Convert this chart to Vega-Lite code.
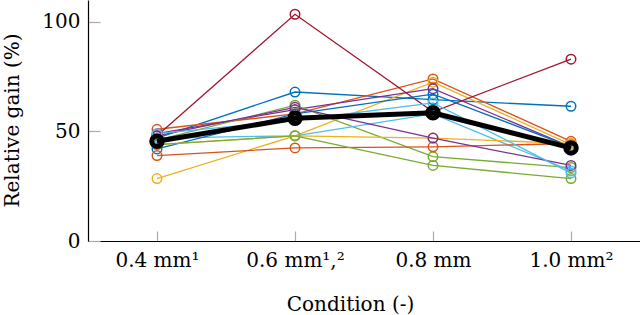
{
  "$schema": "https://vega.github.io/schema/vega-lite/v6.json",
  "width": 552,
  "height": 241,
  "autosize": {"type": "none"},
  "padding": {"left": 88, "top": 0, "right": 0, "bottom": 74},
  "background": "white",
  "config": {
    "view": {"stroke": null},
    "font": "DejaVu Serif",
    "axis": {
      "labelFont": "DejaVu Serif",
      "titleFont": "DejaVu Serif",
      "labelFontSize": 20,
      "titleFontSize": 20,
      "labelColor": "#000",
      "titleColor": "#000",
      "titleFontWeight": "normal",
      "domainColor": "#000",
      "domainWidth": 1.2,
      "tickColor": "#aaa",
      "tickWidth": 1.2,
      "grid": false
    }
  },
  "datasets": {
    "series": [
      {"s": "S01", "c": "0.4 mm¹", "v": 47}, {"s": "S01", "c": "0.6 mm¹,²", "v": 68}, {"s": "S01", "c": "0.8 mm", "v": 64.5}, {"s": "S01", "c": "1.0 mm²", "v": 61.5},
      {"s": "S02", "c": "0.4 mm¹", "v": 51}, {"s": "S02", "c": "0.6 mm¹,²", "v": 58}, {"s": "S02", "c": "0.8 mm", "v": 74}, {"s": "S02", "c": "1.0 mm²", "v": 45.5},
      {"s": "S03", "c": "0.4 mm¹", "v": 28.5}, {"s": "S03", "c": "0.6 mm¹,²", "v": 48}, {"s": "S03", "c": "0.8 mm", "v": 72.5}, {"s": "S03", "c": "1.0 mm²", "v": 44},
      {"s": "S04", "c": "0.4 mm¹", "v": 49}, {"s": "S04", "c": "0.6 mm¹,²", "v": 60}, {"s": "S04", "c": "0.8 mm", "v": 69.5}, {"s": "S04", "c": "1.0 mm²", "v": 43},
      {"s": "S05", "c": "0.4 mm¹", "v": 46}, {"s": "S05", "c": "0.6 mm¹,²", "v": 62}, {"s": "S05", "c": "0.8 mm", "v": 38.5}, {"s": "S05", "c": "1.0 mm²", "v": 33.5},
      {"s": "S06", "c": "0.4 mm¹", "v": 47}, {"s": "S06", "c": "0.6 mm¹,²", "v": 48}, {"s": "S06", "c": "0.8 mm", "v": 58}, {"s": "S06", "c": "1.0 mm²", "v": 32},
      {"s": "S07", "c": "0.4 mm¹", "v": 48}, {"s": "S07", "c": "0.6 mm¹,²", "v": 103.5}, {"s": "S07", "c": "0.8 mm", "v": 59}, {"s": "S07", "c": "1.0 mm²", "v": 83},
      {"s": "S08", "c": "0.4 mm¹", "v": 42}, {"s": "S08", "c": "0.6 mm¹,²", "v": 58}, {"s": "S08", "c": "0.8 mm", "v": 67}, {"s": "S08", "c": "1.0 mm²", "v": 43},
      {"s": "S09", "c": "0.4 mm¹", "v": 39}, {"s": "S09", "c": "0.6 mm¹,²", "v": 42.5}, {"s": "S09", "c": "0.8 mm", "v": 43}, {"s": "S09", "c": "1.0 mm²", "v": 44.5},
      {"s": "S10", "c": "0.4 mm¹", "v": 44}, {"s": "S10", "c": "0.6 mm¹,²", "v": 48}, {"s": "S10", "c": "0.8 mm", "v": 47}, {"s": "S10", "c": "1.0 mm²", "v": 44.5},
      {"s": "S11", "c": "0.4 mm¹", "v": 48}, {"s": "S11", "c": "0.6 mm¹,²", "v": 61}, {"s": "S11", "c": "0.8 mm", "v": 47}, {"s": "S11", "c": "1.0 mm²", "v": 34.5},
      {"s": "S12", "c": "0.4 mm¹", "v": 44}, {"s": "S12", "c": "0.6 mm¹,²", "v": 48}, {"s": "S12", "c": "0.8 mm", "v": 34.5}, {"s": "S12", "c": "1.0 mm²", "v": 28.5},
      {"s": "S13", "c": "0.4 mm¹", "v": 49}, {"s": "S13", "c": "0.6 mm¹,²", "v": 55}, {"s": "S13", "c": "0.8 mm", "v": 63}, {"s": "S13", "c": "1.0 mm²", "v": 31}
    ],
    "mean": [
      {"c": "0.4 mm¹", "v": 45.5}, {"c": "0.6 mm¹,²", "v": 56}, {"c": "0.8 mm", "v": 58.5}, {"c": "1.0 mm²", "v": 42.5}
    ]
  },
  "encoding": {
    "x": {
      "field": "c", "type": "nominal",
      "scale": {"type": "point", "padding": 0.5, "domain": ["0.4 mm¹", "0.6 mm¹,²", "0.8 mm", "1.0 mm²"]},
      "axis": {"title": "Condition (-)", "labelAngle": 0, "tickSize": -10, "labelPadding": 19,
               "titleX": 262, "titleY": 69, "titleBaseline": "alphabetic", "titleAlign": "center"}
    },
    "y": {
      "field": "v", "type": "quantitative",
      "scale": {"domain": [0, 110], "nice": false, "zero": true},
      "axis": {"title": "Relative gain (%)", "values": [0, 50, 100], "tickSize": -12, "labelPadding": 20,
               "titleX": -70, "titleY": 120, "titleBaseline": "alphabetic", "titleAlign": "center", "titleAngle": -90}
    }
  },
  "layer": [
    {
      "data": {"name": "series"},
      "mark": {"type": "line", "strokeWidth": 1.3},
      "encoding": {
        "color": {"field": "s", "type": "nominal", "legend": null,
          "scale": {"domain": ["S01","S02","S03","S04","S05","S06","S07","S08","S09","S10","S11","S12","S13"],
                    "range": ["#0072BD","#D95319","#EDB120","#7E2F8E","#77AC30","#4DBEEE","#A2142F","#0072BD","#D95319","#EDB120","#7E2F8E","#77AC30","#4DBEEE"]}}
      }
    },
    {
      "data": {"name": "series"},
      "mark": {"type": "point", "shape": "circle", "filled": false, "size": 90, "strokeWidth": 1.5, "opacity": 1},
      "encoding": {
        "color": {"field": "s", "type": "nominal", "legend": null}
      }
    },
    {
      "data": {"name": "mean"},
      "mark": {"type": "line", "strokeWidth": 5, "color": "#000"},
      "encoding": {}
    },
    {
      "data": {"name": "mean"},
      "mark": {"type": "point", "shape": "circle", "filled": false, "size": 110, "strokeWidth": 5, "color": "#000", "opacity": 1},
      "encoding": {}
    }
  ]
}
